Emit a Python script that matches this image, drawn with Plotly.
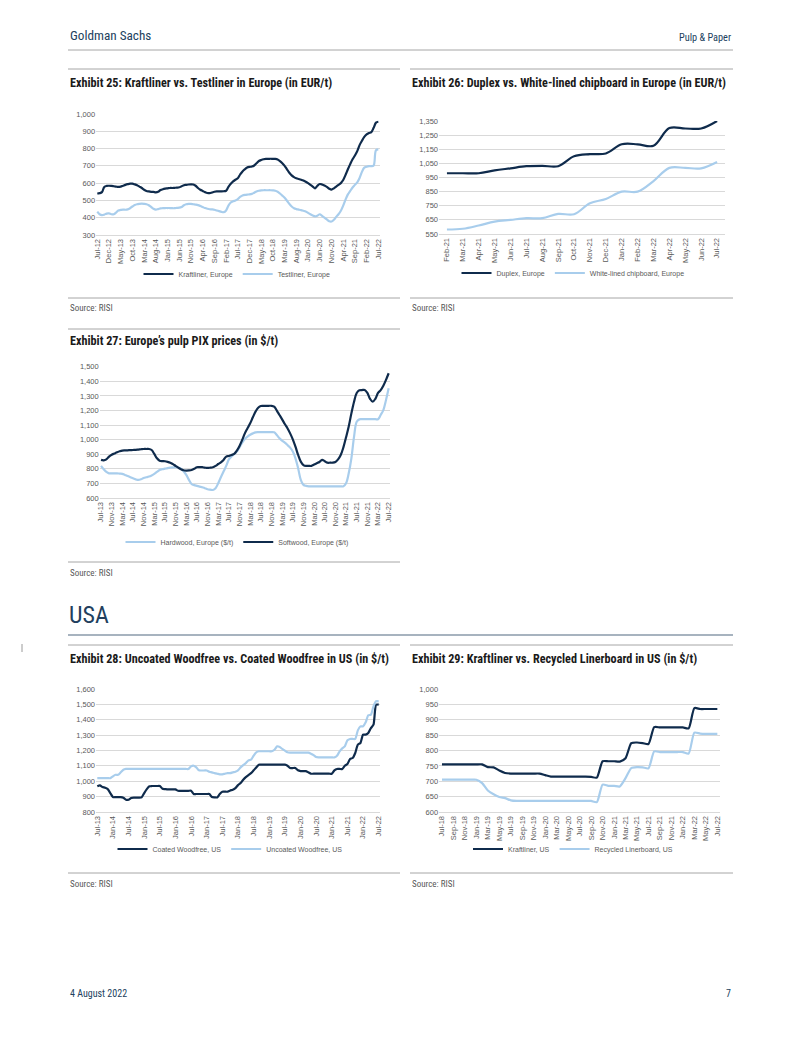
import plotly.graph_objects as go
import pandas as pd

W, H = 802, 1037          # target page (browser window)
OFF = 8                   # default page-body margin in the browser
FW, FH = W - 2 * OFF, H - 2 * OFF

# ---------------- DATA ----------------
# Exhibit 25 (Jul-12 .. Jul-22, monthly)
months25 = pd.date_range("2012-07-01", periods=121, freq="MS").strftime("%b-%y").tolist()
kraft_eu = [
    540, 542, 548, 578, 584, 585, 584, 582, 580, 578,
    580, 585, 590, 594, 597, 597, 593, 588, 580, 572,
    562, 555, 552, 550, 549, 547, 550, 560, 565, 568,
    570, 572, 572, 573, 574, 576, 582, 588, 590, 592,
    593, 592, 585, 572, 562, 555, 548, 543, 542, 546,
    550, 552, 552, 552, 553, 556, 578, 596, 610, 620,
    628, 650, 668, 680, 690, 694, 696, 702, 715, 728,
    734, 738, 740, 740, 741, 740, 740, 737, 728, 715,
    700, 680, 660, 645, 635, 628, 624, 620, 615, 608,
    600, 590, 580, 570, 585, 595, 592, 586, 578, 568,
    563, 570, 580, 590, 600, 618, 648, 680, 710, 738,
    760, 785, 820, 845, 868, 882, 890, 895, 920, 950,
    955]
test_eu = [
    435, 420, 415, 418, 424, 425, 420, 420, 430, 442,
    445, 447, 446, 448, 455, 465, 474, 478, 480, 481,
    480, 478, 472, 462, 452, 447, 450, 454, 455, 456,
    456, 456, 455, 455, 457, 458, 462, 472, 478, 480,
    480, 478, 476, 473, 468, 462, 456, 452, 449, 448,
    446, 442, 438, 434, 432, 442, 470, 488, 495, 500,
    508, 520, 528, 532, 534, 535, 538, 545, 552, 556,
    558, 559, 559, 559, 559, 558, 556, 550, 540, 528,
    515, 498, 480, 465, 455, 450, 447, 444, 440, 436,
    428, 420, 413, 408, 412, 420, 410, 400, 390, 380,
    378, 388, 405, 420, 440, 470, 505, 535, 555, 575,
    590, 605, 630, 665, 690, 695, 698, 698, 702, 790,
    795]

# Exhibit 26 (Feb-21 .. Jul-22)
months26 = pd.date_range("2021-02-01", periods=18, freq="MS").strftime("%b-%y").tolist()
duplex_eu = [980, 980, 980, 1000, 1015, 1030, 1033, 1030, 1100, 1115, 1120, 1185,
             1185, 1175, 1300, 1297, 1297, 1350]
wlc_eu = [582, 587, 610, 638, 650, 662, 662, 692, 690, 768, 798, 850,
          850, 925, 1018, 1018, 1015, 1060]

# Exhibit 27 (Jul-13 .. Jul-22)
months27 = pd.date_range("2013-07-01", periods=109, freq="MS").strftime("%b-%y").tolist()
softwood_eu = [
    861, 858, 865, 884, 897, 905, 913, 920, 925, 926,
    927, 928, 929, 930, 932, 934, 936, 936, 936, 929,
    902, 872, 856, 853, 852, 848, 842, 832, 820, 808,
    797, 790, 788, 789, 792, 800, 811, 811, 811, 808,
    806, 808, 811, 820, 833, 845, 861, 884, 888, 895,
    902, 925, 957, 998, 1043, 1078, 1112, 1153, 1192, 1219,
    1231, 1232, 1232, 1232, 1232, 1226, 1199, 1169, 1139, 1107,
    1078, 1043, 1002, 952, 895, 849, 826, 820, 820, 820,
    829, 838, 847, 861, 852, 842, 842, 842, 847, 865,
    895, 947, 1016, 1090, 1180, 1260, 1320, 1338, 1340, 1340,
    1320, 1280, 1260, 1280, 1320, 1340, 1370, 1410, 1455]
hardwood_eu = [
    820, 797, 779, 769, 769, 769, 769, 767, 765, 758,
    751, 743, 735, 728, 724, 728, 737, 742, 747, 755,
    765, 779, 792, 797, 801, 805, 808, 810, 811, 808,
    801, 783, 758, 724, 696, 688, 683, 678, 674, 667,
    660, 657, 655, 667, 701, 742, 781, 820, 865, 884,
    902, 918, 947, 979, 1005, 1021, 1034, 1043, 1050, 1052,
    1052, 1052, 1052, 1052, 1052, 1050, 1032, 1009, 993, 979,
    963, 945, 918, 872, 804, 724, 690, 683, 680, 680,
    680, 680, 680, 680, 680, 680, 680, 680, 680, 680,
    680, 680, 701, 769, 872, 1021, 1123, 1139, 1140, 1140,
    1140, 1140, 1140, 1140, 1140, 1169, 1203, 1272, 1352]

# Exhibit 28 (Jul-13 .. Jul-22)
months28 = months27
coated_us = [
    967, 973, 962, 958, 949, 923, 897, 897, 897, 897,
    893, 880, 880, 891, 893, 893, 893, 895, 923, 949,
    967, 969, 969, 969, 969, 951, 949, 947, 947, 947,
    947, 938, 938, 938, 938, 938, 938, 917, 917, 917,
    917, 917, 917, 917, 897, 895, 895, 917, 932, 932,
    932, 940, 945, 955, 975, 988, 1010, 1027, 1040, 1053,
    1071, 1090, 1108, 1108, 1108, 1108, 1108, 1108, 1108, 1108,
    1108, 1108, 1108, 1101, 1086, 1086, 1086, 1071, 1066, 1066,
    1066, 1058, 1049, 1049, 1049, 1049, 1049, 1049, 1049, 1049,
    1049, 1071, 1080, 1080, 1080, 1101, 1112, 1145, 1151, 1184,
    1238, 1249, 1303, 1303, 1314, 1346, 1368, 1498, 1498]
uncoated_us = [
    1020, 1020, 1020, 1020, 1020, 1020, 1032, 1042, 1042, 1058,
    1075, 1080, 1080, 1080, 1080, 1080, 1080, 1080, 1080, 1080,
    1080, 1080, 1080, 1080, 1080, 1080, 1080, 1080, 1080, 1080,
    1080, 1080, 1080, 1080, 1080, 1080, 1097, 1101, 1090, 1071,
    1070, 1070, 1070, 1062, 1058, 1053, 1049, 1045, 1045, 1049,
    1053, 1053, 1058, 1062, 1071, 1090, 1105, 1118, 1136, 1140,
    1166, 1188, 1195, 1195, 1195, 1195, 1195, 1195, 1205, 1227,
    1223, 1210, 1199, 1188, 1186, 1186, 1186, 1186, 1186, 1186,
    1186, 1186, 1179, 1170, 1157, 1155, 1155, 1155, 1155, 1155,
    1155, 1155, 1166, 1194, 1214, 1227, 1266, 1275, 1275, 1275,
    1331, 1357, 1357, 1383, 1429, 1433, 1487, 1520, 1520]

# Exhibit 29 (Jul-18 .. Jul-22)
months29 = pd.date_range("2018-07-01", periods=49, freq="MS").strftime("%b-%y").tolist()
kraft_us = [
    755, 755, 755, 755, 755, 755, 755, 755, 746, 745,
    735, 727, 725, 725, 725, 725, 725, 725, 720, 715,
    715, 715, 715, 715, 715, 715, 714, 712, 765, 765,
    765, 764, 775, 824, 826, 824, 821, 876, 875, 875,
    875, 875, 875, 872, 938, 935, 935, 935, 935]
recycled_us = [
    705, 705, 705, 705, 705, 705, 705, 694, 670, 658,
    649, 645, 638, 636, 636, 636, 636, 636, 636, 636,
    636, 636, 636, 636, 636, 636, 636, 632, 689, 685,
    685, 683, 710, 743, 746, 745, 742, 797, 795, 795,
    795, 795, 795, 790, 858, 855, 854, 854, 854]

# ---------------- STYLE ----------------
DARK = "#0f2b4c"
LIGHT = "#a8cdec"
GRID = "#d9d9d9"
TXT = "#595959"
HEAD = "#223f5e"
TITLE = "#1a1a1a"
COND = "Liberation Sans Narrow, Arial Narrow, Roboto Condensed, DejaVu Sans Condensed, sans-serif"
SANS = "Liberation Sans, Arial, sans-serif"


def fx(p):
    return (p - OFF) / FW


def fy(p):
    return 1 - (p - OFF) / FH


fig = go.Figure()

charts = [
    ("", months25, [("Kraftliner, Europe", kraft_eu, DARK), ("Testliner, Europe", test_eu, LIGHT)],
     (96.1, 379.5), (114, 235), (300, 1000), 100, 5, (237, 274)),
    ("2", months26, [("Duplex, Europe", duplex_eu, DARK), ("White-lined chipboard, Europe", wlc_eu, LIGHT)],
     (439, 725), (121, 234), (550, 1350), 100, 1, (573, 273)),
    ("3", months27, [("Hardwood, Europe ($/t)", hardwood_eu, LIGHT), ("Softwood, Europe ($/t)", softwood_eu, DARK)],
     (99.7, 390), (366.7, 498), (600, 1500), 100, 4, (237, 542)),
    ("4", months28, [("Coated Woodfree, US", coated_us, DARK), ("Uncoated Woodfree, US", uncoated_us, LIGHT)],
     (96, 380), (689, 812), (800, 1600), 100, 6, (230, 849)),
    ("5", months29, [("Kraftliner, US", kraft_us, DARK), ("Recycled Linerboard, US", recycled_us, LIGHT)],
     (439.1, 720.2), (689, 812), (600, 1000), 50, 2, (573, 849)),
]

layout_axes = {}
for i, (suf, months, series, xd, yd, yr, dt, step, lc) in enumerate(charts):
    xa = "x" + suf
    ya = "y" + suf
    lg = "legend" + suf
    smooth = 1.0 if i < 3 else 0.6
    for name, vals, col in series:
        fig.add_trace(go.Scatter(
            x=months, y=vals, name=name, mode="lines",
            line=dict(color=col, width=2.2, shape="spline", smoothing=smooth),
            xaxis=xa, yaxis=ya, legend=lg, showlegend=True, hoverinfo="skip"))
    n = len(months)
    layout_axes["xaxis" + suf] = dict(
        domain=[fx(xd[0]), fx(xd[1])], anchor=ya, type="category",
        range=[-0.5, n - 0.5], tickmode="array",
        tickvals=months[::step], ticktext=months[::step],
        tickangle=-90, tickfont=dict(size=7.5, color=TXT, family=SANS),
        showgrid=False, showline=True, linecolor=GRID, linewidth=1,
        ticks="", zeroline=False, fixedrange=True, automargin=False)
    layout_axes["yaxis" + suf] = dict(
        domain=[fy(yd[1]), fy(yd[0])], anchor=xa, range=list(yr),
        dtick=dt, tick0=yr[0], tickformat=",", showgrid=True, gridcolor=GRID,
        gridwidth=1, showline=False, zeroline=False, ticks="",
        tickfont=dict(size=7.5, color=TXT, family=SANS), fixedrange=True,
        automargin=False)
    layout_axes[lg] = dict(
        x=fx(lc[0]), y=fy(lc[1]), xanchor="center", yanchor="middle",
        orientation="h", font=dict(size=7, color=TXT, family=SANS),
        itemwidth=30, bgcolor="rgba(0,0,0,0)", traceorder="normal")

# ---------------- TEXT ----------------
ann = []


def text(t, x, y, size, color, family=COND, xanchor="left"):
    ann.append(dict(text=t, x=fx(x), y=fy(y), xref="paper", yref="paper",
                    xanchor=xanchor, yanchor="middle", showarrow=False,
                    font=dict(size=size, color=color, family=family)))


text("Goldman Sachs", 68, 36, 13.2, HEAD)
text("Pulp & Paper", 733, 38, 10.3, HEAD, xanchor="right")
text("<b>Exhibit 25: Kraftliner vs. Testliner in Europe (in EUR/t)</b>", 68, 83, 12.2, TITLE)
text("<b>Exhibit 26: Duplex vs. White-lined chipboard in Europe (in EUR/t)</b>", 410, 83, 12.2, TITLE)
text("Source: RISI", 68, 308, 9, TXT)
text("Source: RISI", 410, 308, 9, TXT)
text("<b>Exhibit 27: Europe’s pulp PIX prices (in $/t)</b>", 68, 341, 12.2, TITLE)
text("Source: RISI", 68, 573, 9, TXT)
text("USA", 67, 615, 24, HEAD)
text("<b>Exhibit 28: Uncoated Woodfree vs. Coated Woodfree in US (in $/t)</b>", 68, 659, 12.2, TITLE)
text("<b>Exhibit 29: Kraftliner vs. Recycled Linerboard in US (in $/t)</b>", 410, 659, 12.2, TITLE)
text("Source: RISI", 68, 884, 9, TXT)
text("Source: RISI", 410, 884, 9, TXT)
text("4 August 2022", 68, 993, 10, HEAD)
text("7", 733, 993, 10, HEAD, xanchor="right")

# ---------------- RULES ----------------
shapes = []


def hline(x0, x1, y, color="#a6a6a6", width=1):
    shapes.append(dict(type="line", xref="paper", yref="paper",
                       x0=fx(x0), x1=fx(x1), y0=fy(y), y1=fy(y),
                       line=dict(color=color, width=width)))


hline(68, 733, 50)
hline(68, 400, 69)
hline(410, 733, 69)
hline(68, 400, 298)
hline(410, 733, 298)
hline(68, 400, 329)
hline(68, 400, 562)
hline(68, 733, 635, color="#8a9aaa", width=1.5)
hline(68, 400, 645)
hline(410, 733, 645)
hline(68, 400, 873)
hline(410, 733, 873)
shapes.append(dict(type="line", xref="paper", yref="paper", x0=fx(22), x1=fx(22),
                   y0=fy(644), y1=fy(652), line=dict(color="#9a9a9a", width=1)))

fig.update_layout(
    template="none",
    width=FW, height=FH, margin=dict(l=0, r=0, t=0, b=0, pad=0, autoexpand=False),
    paper_bgcolor="white", plot_bgcolor="white",
    annotations=ann, shapes=shapes, showlegend=True,
    font=dict(family=SANS, color=TXT),
    **layout_axes)

fig.write_html("out.html")
